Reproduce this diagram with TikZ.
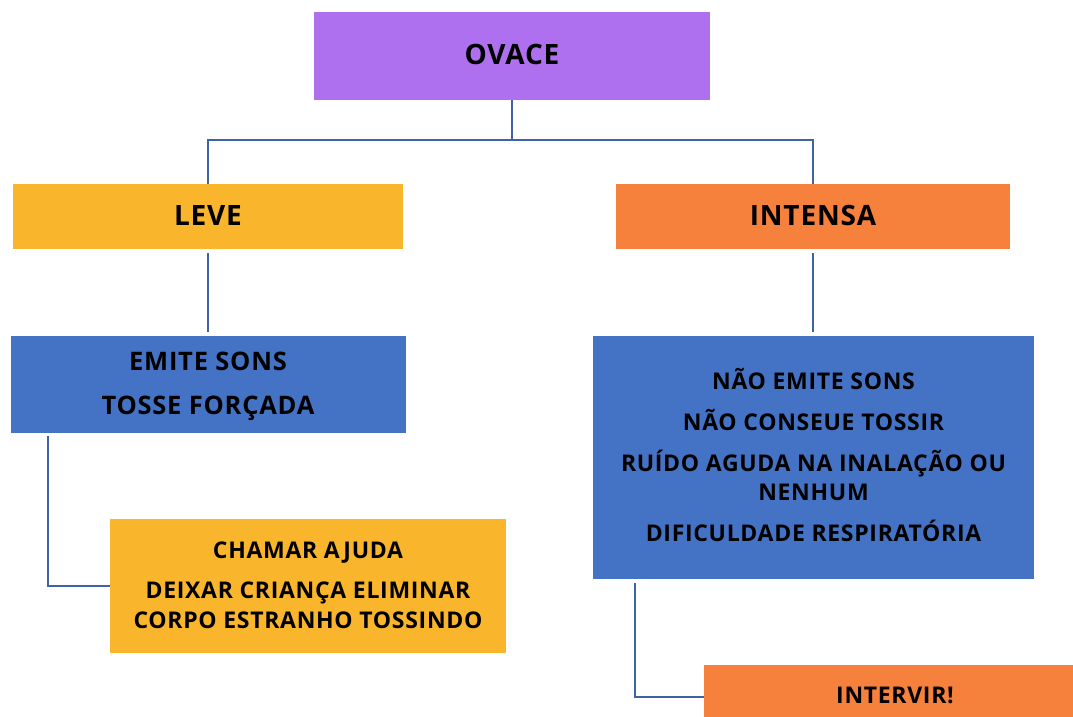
\documentclass[tikz,border=0pt]{standalone}
\usepackage{fontspec}
\setmainfont{Open Sans}[UprightFont=* Bold, LetterSpace=3]
\definecolor{cpurple}{HTML}{AE70EF}
\definecolor{cyellow}{HTML}{F9B52C}
\definecolor{corange}{HTML}{F5813C}
\definecolor{cblue}{HTML}{4472C4}
\definecolor{cline}{HTML}{3F63A6}
\tikzset{
  box/.style={draw=none, inner sep=0pt, outer sep=0pt, anchor=north west},
  lbl/.style={anchor=base, inner sep=0pt, text=black},
  big/.style={lbl, font=\fontsize{28}{32}\selectfont},
  lft/.style={lbl, font=\fontsize{25.5}{30}\selectfont},
  mid/.style={lbl, font=\fontsize{23}{27}\selectfont},
  conn/.style={draw=cline, line width=2pt},
}
\begin{document}
\begin{tikzpicture}[x=1pt,y=-1pt]
\useasboundingbox (0,0) rectangle (1073,717);
% boxes
\node[box, fill=cpurple, minimum width=396pt, minimum height=88pt] (ovace) at (314,12) {};
\node[box, fill=cyellow, minimum width=390pt, minimum height=65pt] (leve) at (13,184) {};
\node[box, fill=corange, minimum width=394pt, minimum height=65pt] (intensa) at (616,184) {};
\node[box, fill=cblue, minimum width=395pt, minimum height=97pt] (emite) at (11,336) {};
\node[box, fill=cblue, minimum width=441pt, minimum height=243pt] (nao) at (593,336) {};
\node[box, fill=cyellow, minimum width=396pt, minimum height=134pt] (chamar) at (110,519) {};
\node[box, fill=corange, minimum width=369pt, minimum height=52pt] (intervir) at (704,665) {};
% labels
\node[big] (t-ovace) at (512,65) {OVACE};
\node[big] (t-leve) at (208,225) {LEVE};
\node[big] (t-intensa) at (813,225) {INTENSA};
\node[lft] (t-e1) at (208,370) {EMITE SONS};
\node[lft] (t-e2) at (208,414) {TOSSE FORÇADA};
\node[mid] (t-n1) at (813.5,389) {NÃO EMITE SONS};
\node[mid] (t-n2) at (813.5,430) {NÃO CONSEUE TOSSIR};
\node[mid] (t-n3) at (813.5,471) {RUÍDO AGUDA NA INALAÇÃO OU};
\node[mid] (t-n4) at (813.5,500) {NENHUM};
\node[mid] (t-n5) at (813.5,541) {DIFICULDADE RESPIRATÓRIA};
\node[mid] (t-c1) at (308,558) {CHAMAR AJUDA};
\node[mid] (t-c2) at (308,598) {DEIXAR CRIANÇA ELIMINAR};
\node[mid] (t-c3) at (308,628) {CORPO ESTRANHO TOSSINDO};
\node[mid] (t-i) at (895,703) {INTERVIR!};
% connectors
\coordinate (j) at (512,140);
\draw[conn] (ovace.south) -- (j);
\draw[conn] (j) -| (leve.north);
\draw[conn] (j) -| (intensa.north);
\draw[conn, shorten <=4pt, shorten >=4pt] (leve.south) -- (emite.north -| leve.south);
\draw[conn, shorten <=4pt, shorten >=4pt] (intensa.south) -- (nao.north -| intensa.south);
\draw[conn] ([xshift=37pt,yshift=-3pt]emite.south west) |- (chamar.west);
\draw[conn] ([xshift=42pt,yshift=-4pt]nao.south west) |- ([yshift=-6pt]intervir.west);
\end{tikzpicture}
\end{document}
